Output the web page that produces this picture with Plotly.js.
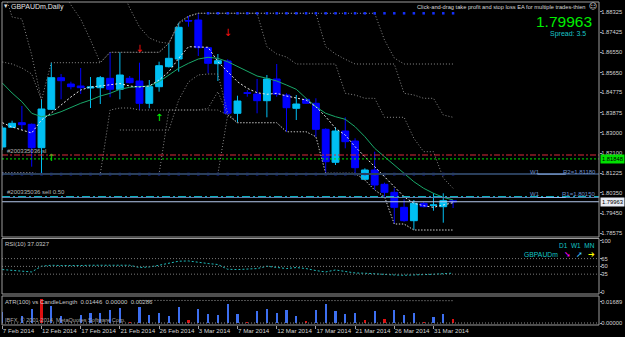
<!DOCTYPE html>
<html><head><meta charset="utf-8">
<script src="https://cdn.plot.ly/plotly-3.0.1.min.js"></script>
<style>html,body{margin:0;padding:0;background:#000;overflow:hidden}#chart{width:625px;height:337px}</style>
</head><body><div id="chart"></div>
<script>
const dates = ['2014-02-07','2014-02-09','2014-02-10','2014-02-11','2014-02-12','2014-02-13','2014-02-14',
'2014-02-16','2014-02-17','2014-02-18','2014-02-19','2014-02-20','2014-02-21',
'2014-02-23','2014-02-24','2014-02-25','2014-02-26','2014-02-27','2014-02-28',
'2014-03-02','2014-03-03','2014-03-04','2014-03-05','2014-03-06','2014-03-07',
'2014-03-09','2014-03-10','2014-03-11','2014-03-12','2014-03-13','2014-03-14',
'2014-03-16','2014-03-17','2014-03-18','2014-03-19','2014-03-20','2014-03-21',
'2014-03-23','2014-03-24','2014-03-25','2014-03-26','2014-03-27','2014-03-28',
'2014-03-30','2014-03-31','2014-04-01','2014-04-02'];
const tickDates = ['2014-02-07','2014-02-12','2014-02-17','2014-02-21','2014-02-26','2014-03-03','2014-03-07','2014-03-12','2014-03-17','2014-03-21','2014-03-26','2014-03-31'];
const tickLabels = ['7 Feb 2014','12 Feb 2014','17 Feb 2014','21 Feb 2014','26 Feb 2014','3 Mar 2014','7 Mar 2014','12 Mar 2014','17 Mar 2014','21 Mar 2014','26 Mar 2014','31 Mar 2014'];

const open  = [1.82372,1.83239,1.83441,1.83371,1.82341,1.84031,1.85421,1.85144,1.85056,1.84968,1.84981,1.85395,1.84911,1.85395,1.85276,1.84295,1.85025,1.85905,1.86244,1.87938,1.87960,1.86741,1.86037,1.86156,1.83855,1.84761,1.84704,1.84409,1.85364,1.84660,1.84075,1.84471,1.84295,1.83151,1.81699,1.83076,1.82636,1.80951,1.81360,1.80731,1.80379,1.79719,1.79129,1.79895,1.79807,1.79745,1.80005];
const high  = [1.83296,1.83529,1.84176,1.83406,1.84471,1.86081,1.85584,1.85245,1.85848,1.85452,1.85496,1.86539,1.86539,1.85496,1.86081,1.85320,1.86125,1.86935,1.87841,1.88136,1.88255,1.86785,1.86464,1.86231,1.84629,1.84880,1.85364,1.85540,1.86024,1.84735,1.84660,1.84506,1.84515,1.83195,1.83239,1.83679,1.82755,1.81435,1.82165,1.80801,1.80555,1.80071,1.80040,1.79965,1.80335,1.80335,1.80040];
const low   = [1.82240,1.83208,1.83120,1.81505,1.81184,1.84000,1.84471,1.84911,1.84704,1.84088,1.84264,1.84559,1.84471,1.85166,1.84000,1.84075,1.84805,1.85870,1.85685,1.87665,1.86376,1.85615,1.85276,1.83780,1.83441,1.84585,1.83855,1.83679,1.84585,1.83045,1.83560,1.84264,1.82825,1.81215,1.81580,1.82315,1.81215,1.80920,1.80480,1.80185,1.78984,1.79085,1.78720,1.79719,1.79569,1.79041,1.79688];
const close = [1.83208,1.83415,1.83353,1.82341,1.84044,1.85421,1.85289,1.85025,1.84981,1.85012,1.85421,1.84911,1.85540,1.85201,1.84295,1.85025,1.85949,1.86275,1.87639,1.87916,1.86741,1.86055,1.86169,1.83855,1.84396,1.84735,1.84409,1.85364,1.84691,1.84101,1.84264,1.84295,1.83151,1.81725,1.83076,1.82605,1.81461,1.81360,1.80700,1.80379,1.79719,1.79129,1.79895,1.79745,1.79820,1.80009,1.79963];

const maGreen = [1.85188,1.84748,1.84365,1.83855,1.83705,1.83780,1.83925,1.84119,1.84295,1.84440,1.84616,1.84735,1.84911,1.84999,1.85025,1.85056,1.85245,1.85540,1.85835,1.86055,1.86244,1.86319,1.86275,1.86125,1.85905,1.85685,1.85496,1.85395,1.85276,1.85100,1.84911,1.84515,1.84145,1.83855,1.83705,1.83591,1.83265,1.82825,1.82315,1.81945,1.81580,1.81215,1.80845,1.80555,1.80335,1.80159,1.80040];
const maWhite = [1.83441,1.83252,1.83120,1.82988,1.83560,1.83868,1.84220,1.84572,1.84880,1.85012,1.85056,1.85100,1.85166,1.85056,1.85012,1.85056,1.85320,1.85685,1.86275,1.86785,1.86785,1.86759,1.86125,1.85685,1.85245,1.84955,1.84761,1.84691,1.84735,1.84616,1.84515,1.84440,1.84145,1.83705,1.83195,1.82900,1.82385,1.81945,1.81505,1.81065,1.80625,1.80185,1.79895,1.79789,1.79719,1.79820,1.79921];

const upper7  = [1.89500,1.88092,1.88004,1.86420,1.84440,1.86081,1.86081,1.86081,1.86081,1.86081,1.86081,1.86539,1.86539,1.86539,1.86539,1.86539,1.86539,1.86935,1.87841,1.88136,1.88255,1.88255,1.88255,1.88255,1.88255,1.88255,1.88255,1.86785,1.86464,1.86332,1.86024,1.86024,1.86024,1.86024,1.86024,1.84735,1.84660,1.84515,1.84515,1.83679,1.83679,1.83679,1.82755,1.82165,1.82165,1.81008,1.80555];
const upper13 = [1.89500,1.89500,1.89500,1.89500,1.89500,1.89500,1.89500,1.88620,1.88004,1.87080,1.86081,1.86539,1.86539,1.86539,1.86539,1.86539,1.86539,1.86935,1.87841,1.88136,1.88255,1.88255,1.88255,1.88255,1.88255,1.88255,1.88255,1.88255,1.88255,1.88255,1.88255,1.88255,1.88255,1.86785,1.86464,1.86231,1.86024,1.86024,1.86024,1.86024,1.86024,1.84735,1.84660,1.84515,1.84515,1.83780,1.83679];
const upper19 = [1.89500,1.89500,1.89500,1.89500,1.89500,1.89500,1.89500,1.89500,1.89500,1.89500,1.89500,1.89500,1.89500,1.88488,1.87652,1.87168,1.86992,1.86935,1.87784,1.88092,1.88255,1.88255,1.88255,1.88255,1.88255,1.88255,1.88255,1.88255,1.88255,1.88255,1.88255,1.88255,1.88255,1.88255,1.88255,1.88255,1.88255,1.88255,1.88255,1.87080,1.86288,1.86024,1.86024,1.86024,1.86024,1.86024,1.86024];
const lower7  = [1.81228,1.81228,1.81228,1.81228,1.81184,1.81184,1.81184,1.81184,1.81184,1.81184,1.81184,1.84000,1.84088,1.84088,1.84000,1.84000,1.84000,1.84000,1.84000,1.84000,1.84000,1.84075,1.84805,1.83780,1.83441,1.83441,1.83441,1.83441,1.83441,1.83045,1.83045,1.83045,1.82825,1.81215,1.81215,1.81215,1.81215,1.80920,1.80480,1.80185,1.78984,1.78984,1.78720,1.78720,1.78720,1.78720,1.78720];
const lower13 = [1.81228,1.81228,1.81228,1.81228,1.81184,1.81184,1.81184,1.81184,1.81184,1.81184,1.81184,1.81184,1.81184,1.81184,1.81184,1.81184,1.81184,1.84000,1.84000,1.84000,1.84000,1.84000,1.84000,1.83780,1.83441,1.83441,1.83441,1.83441,1.83441,1.83045,1.83045,1.83045,1.82825,1.81215,1.81215,1.81215,1.81215,1.80920,1.80480,1.80185,1.78984,1.78984,1.78720,1.78720,1.78720,1.78720,1.78720];
const lower19 = [1.81228,1.81228,1.81228,1.81228,1.81184,1.81184,1.81184,1.81184,1.81184,1.81184,1.81184,1.81184,1.81184,1.81184,1.81184,1.81184,1.81184,1.81184,1.81184,1.81184,1.81184,1.81184,1.81184,1.83780,1.83441,1.83441,1.83441,1.83441,1.83441,1.83045,1.83045,1.83045,1.82825,1.81215,1.81215,1.81215,1.81215,1.80920,1.80480,1.80185,1.78984,1.78984,1.78720,1.78720,1.78720,1.78720,1.78720];
const extraUpper = [1.86112,1.86024,1.85848,1.85584,1.84440,null,null,null,null,null,null,null,null,null,null,null,null,null,null,null,null,null,null,null,null,null,null,null,null,null,null,null,null,null,null,null,null,null,null,null,null,null,null,null,null,null,null];
const extraLower = [null,null,null,null,null,null,null,null,null,null,null,null,1.83120,1.83120,1.83120,1.83120,1.83120,1.83120,1.84440,1.85232,1.85540,1.85584,1.85584,1.83868,1.83428,null,null,null,null,null,null,null,null,null,null,null,null,null,null,null,null,null,null,null,null,null,null];

const topDots = [null,null,null,null,null,null,null,null,null,null,null,null,null,null,null,null,null,null,null,null,null,1.88255,1.88255,1.88255,1.88255,1.88255,1.88255,1.88255,1.88255,1.88255,1.88255,1.88255,1.88255,1.88255,1.88255,1.88255,1.88255,1.88255,1.88255,1.88255,1.88255,1.88255,1.88255,1.88255,1.88255,1.88255,1.88255];
const supportDots = [1.8118,1.8118,1.8118,1.8118,1.8118,1.8118,1.8118,1.8118,1.8118,1.8118,1.8118,1.8118,1.8118,1.8118,1.8118,1.8118,1.8118,1.8118,1.8118,1.8118,1.8118,1.8118,1.8118,1.8118,1.8118,1.8118,1.8118,1.8118,1.8118,1.8118,1.8118,1.8118,1.8118,1.8118,1.8118,1.8118,1.8118,1.8118,1.8118,1.8118,1.8118,1.8118,1.8118,1.8118,1.8118,1.8118,1.8118];
const buyArrows  = [null,null,null,null,null,1.81888,null,null,null,null,null,null,null,null,null,null,1.83648,null,null,null,null,null,null,null,null,null,null,null,null,null,null,null,null,null,null,null,null,null,null,null,null,null,null,null,null,null,null];
const sellArrows = [null,null,null,null,null,null,null,null,null,null,null,null,null,null,1.86684,null,null,null,null,null,null,null,null,1.87388,null,null,null,null,null,null,null,null,null,null,null,null,null,null,null,null,null,null,null,null,null,null,null];

const rsi = [43.9,42.6,41.2,39.3,50.3,52.2,51.6,50.9,51.6,52.2,52.2,52.8,53.6,52.2,47.8,48.9,52.2,56.7,60.0,60.5,57.4,55.5,53.6,44.5,43.9,44.5,45.8,50.3,47.8,45.8,47.8,45.8,42.0,39.3,43.1,40.0,37.3,36.8,35.4,34.8,33.5,32.9,34.2,34.2,34.8,36.2,37.03];
const rsiTicks = [0, 35, 50, 65, 100];

const lenBlue = [0.00896,null,0.00555,0.01086,null,0.01348,0.00579,null,0.00634,0.00769,0.00769,0.01031,0.01166,null,0.01293,0.00634,0.00769,0.00579,0.01245,null,0.0111,0.00714,0.00634,0.01507,0.00714,null,0.00952,0.0111,0.00769,0.01031,0.00579,null,0.01031,0.01507,0.00975,0.00714,0.00769,null,0.00952,null,0.01031,0.0061,0.00793,null,0.00452,0.00714,null];
const lenRed = [null,null,null,null,0.01879,null,null,null,null,null,null,null,null,0.00103,null,null,null,null,null,0.00238,null,null,null,null,null,0.00079,null,null,null,null,null,0.00135,null,null,null,null,null,0.00238,null,0.00317,null,null,null,0.00079,null,null,0.00286];
const atr = [null,null,null,null,null,null,null,null,null,null,null,null,null,null,0.0179,0.0179,0.0179,0.0178,0.0178,0.0178,0.0178,0.0178,0.0178,0.0178,0.0178,0.0178,0.0177,0.0177,0.0177,0.0177,0.0177,0.0177,0.0177,0.0177,0.0177,0.0177,0.0177,0.0177,0.0177,0.0177,0.0177,0.0177,0.0177,0.0177,0.0177,0.0177,0.0177];
const atrTicks = [0, 0.01689];
const atrTickText = ['0.00000', '0.01689'];

const priceTicks = [1.88325,1.87425,1.86550,1.85650,1.84775,1.83875,1.83000,1.82100,1.81225,1.80350,1.79450,1.78575];
const slLevel = 1.82020, greenLevel = 1.81848, r2Level = 1.81180, sellLevel = 1.80185, r1Level = 1.80150, bidLevel = 1.79963;

const X = dates.map((d, i) => i);
const tickIdx = tickDates.map(d => dates.indexOf(d));
const xp = px => (px - 2) / 597;
const yp = py => (325 - py) / 323;
const FONT = 'Liberation Sans, Arial, sans-serif';
const GRAY = '#8a8a8a';

const traces = [];
traces.push({type:'candlestick', x:X, open, high, low, close, xaxis:'x', yaxis:'y', hoverinfo:'skip',
  whiskerwidth:0,
  increasing:{line:{color:'#00BFF3', width:1}, fillcolor:'#00BFF3'},
  decreasing:{line:{color:'#0000FF', width:1}, fillcolor:'#0000FF'}});
[upper7, upper13, upper19, lower7, lower13, lower19, extraUpper, extraLower].forEach(s => {
  traces.push({type:'scatter', mode:'lines', x:X, y:s, xaxis:'x', yaxis:'y', hoverinfo:'skip',
    line:{color:GRAY, width:1, dash:'1px,2px'}, connectgaps:false});
});
traces.push({type:'scatter', mode:'markers', x:X, y:topDots, yaxis:'y', hoverinfo:'skip',
  marker:{color:'#1430ff', size:2.5, symbol:'square'}});
traces.push({type:'scatter', mode:'markers', x:X, y:supportDots, yaxis:'y', hoverinfo:'skip',
  marker:{color:'#1430ff', size:2.5, symbol:'square'}});
traces.push({type:'scatter', mode:'lines', x:X, y:maGreen, yaxis:'y', hoverinfo:'skip',
  line:{color:'#19a86a', width:1}});
traces.push({type:'scatter', mode:'lines', x:X, y:maWhite, yaxis:'y', hoverinfo:'skip',
  line:{color:'#e8e8e8', width:1, dash:'2px,2px'}});
traces.push({type:'scatter', mode:'text', x:X, y:buyArrows, yaxis:'y', hoverinfo:'skip',
  text:buyArrows.map(v => v === null ? '' : '↑'), textfont:{family:'DejaVu Sans', size:10, color:'#00ff00'}});
traces.push({type:'scatter', mode:'text', x:X, y:sellArrows, yaxis:'y', hoverinfo:'skip',
  text:sellArrows.map(v => v === null ? '' : '↓'), textfont:{family:'DejaVu Sans', size:10, color:'#ff1010'}});
traces.push({type:'scatter', mode:'lines', x:X, y:rsi, xaxis:'x', yaxis:'y2', hoverinfo:'skip',
  line:{color:'#1fbcbc', width:1, dash:'2px,2px'}});
traces.push({type:'bar', x:X, y:lenBlue, xaxis:'x', yaxis:'y3', width:0.22, hoverinfo:'skip',
  marker:{color:'#3d6ff0', line:{width:0}}});
traces.push({type:'bar', x:X, y:lenRed, xaxis:'x', yaxis:'y3', width:0.22, hoverinfo:'skip',
  marker:{color:'#e01010', line:{width:0}}});
traces.push({type:'scatter', mode:'lines', x:X, y:atr, xaxis:'x', yaxis:'y3', hoverinfo:'skip',
  line:{color:'#a0a0a0', width:1, dash:'1px,2px'}});

function hline(y, color, dash, width, yref) {
  return {type:'line', xref:'paper', x0:0, x1:1, yref:yref||'y', y0:y, y1:y, line:{color, width:width||1, dash:dash||'solid'}, layer:'above'};
}
const FRAME = '#9c9c9c';
const shapes = [
  hline(r2Level, '#2a3f5c', 'solid', 2),
  hline(slLevel, '#d8283a', '6px,2px,2px,2px'),
  hline(greenLevel, '#00e000', '2px,2px'),
  hline(sellLevel, '#10d8e8', '8px,3px,2px,3px'),
  hline(r1Level, '#5c7cac', 'solid'),
  hline(bidLevel, '#b4c8ec', 'solid'),
  {type:'line', xref:'x', yref:'y', x0:54.6, x1:57.5, y0:r2Level, y1:r2Level, line:{color:'#8fb4ec', width:1}},
  {type:'line', xref:'x', yref:'y', x0:54.6, x1:57.5, y0:r1Level, y1:r1Level, line:{color:'#8fb4ec', width:1}},
  hline(65, '#7a7a7a', '1px,2px', 1, 'y2'),
  hline(50, '#7a7a7a', '1px,2px', 1, 'y2'),
  hline(35, '#7a7a7a', '1px,2px', 1, 'y2'),
  hline(0, '#8a8a8a', '1px,2px', 1, 'y3'),
  {type:'rect', xref:'paper', yref:'paper', x0:0, x1:1, y0:yp(237), y1:yp(2), line:{color:FRAME, width:1}},
  {type:'rect', xref:'paper', yref:'paper', x0:0, x1:1, y0:yp(294), y1:yp(238.5), line:{color:FRAME, width:1}},
  {type:'rect', xref:'paper', yref:'paper', x0:0, x1:1, y0:yp(325), y1:yp(296), line:{color:FRAME, width:1}}
];

function txt(text, px, py, opts) {
  opts = opts || {};
  return {text, xref:'paper', yref:'paper', x:xp(px), y:yp(py), xanchor:opts.xa||'left', yanchor:'middle',
    showarrow:false, font:{family:opts.family||FONT, size:opts.size||6.5, color:opts.color||'#d0d0d0'},
    bgcolor:opts.bg, borderpad:opts.pad||0};
}
const annotations = [
  txt('▾', 3, 6, {size:7, color:'#e0e0e0', family:'DejaVu Sans'}),
  txt('GBPAUDm,Daily', 10, 6.5, {size:7, color:'#e4e4e4'}),
  txt('Click-and-drag take profit and stop loss EA for multiple trades-thien', 587, 7, {xa:'right', size:5.7, color:'#d8d8d8'}),
  txt('☺', 592.5, 7, {xa:'center', size:8, color:'#d8d8d8', family:'DejaVu Sans'}),
  txt('1.79963', 593, 21, {xa:'right', size:15.5, color:'#00ee00'}),
  txt('Spread: 3.5', 587, 34, {xa:'right', size:7, color:'#19c4c8'}),
  txt('#200335036 sl', 6, 151, {size:6, color:'#b4b4b4'}),
  txt('#200335036 sell 0.50', 6, 192.5, {size:6, color:'#b4b4b4'}),
  txt('W1', 529, 171.5, {size:6, color:'#6f90cc'}),
  txt('R2=1.81180', 597, 171.5, {xa:'right', size:6, color:'#6f90cc'}),
  txt('W1', 529, 193.5, {size:6, color:'#6f90cc'}),
  txt('R1=1.80150', 597, 193.5, {xa:'right', size:6, color:'#6f90cc'}),
  txt('1.81848', 600, 159, {size:5.8, color:'#000000', bg:'#00e000', pad:1}),
  txt('1.79963', 600, 202, {size:5.8, color:'#000000', bg:'#e8ecf4', pad:1}),
  txt('RSI(10) 37.0327', 4, 243.5, {size:6, color:'#c8c8c8'}),
  txt('D1  W1  MN', 596, 245, {xa:'right', size:6.5, color:'#12c6c6'}),
  txt('GBPAUDm', 559, 254.5, {xa:'right', size:6.8, color:'#12c6c6'}),
  txt('➘', 567, 254.5, {xa:'center', size:8, color:'#ff00ff', family:'DejaVu Sans'}),
  txt('➚', 579, 254.5, {xa:'center', size:8, color:'#40c8ff', family:'DejaVu Sans'}),
  txt('➔', 591, 254.5, {xa:'center', size:8, color:'#ffff00', family:'DejaVu Sans'}),
  txt('ATR(100) vs CandleLength  0.01446  0.00000  0.00286', 4, 301.5, {size:6, color:'#c8c8c8'}),
  txt('IBFX, © 2001-2014, MetaQuotes Software Corp.', 4, 320, {size:5.6, color:'#a8a8a8'})
];

const axFont = {family:FONT, size:5.8, color:'#d4d4d4'};
const yCommon = {side:'right', anchor:'x', showgrid:false, zeroline:false, showline:false, tickmode:'array',
  ticks:'outside', ticklen:2, tickcolor:FRAME, tickfont:axFont, ticklabelstandoff:-2, fixedrange:true};
const layout = {
  width:625, height:337, margin:{l:2, r:26, t:2, b:12, pad:0},
  paper_bgcolor:'#000', plot_bgcolor:'#000', showlegend:false, dragmode:false,
  font:{family:FONT, color:'#d0d0d0'},
  bargap:0, barmode:'overlay', boxgap:0.3, boxgroupgap:0,
  xaxis:{type:'linear', range:[-0.03, 60.89], anchor:'y3', showgrid:false, zeroline:false, showline:false,
    tickmode:'array', tickvals:tickIdx, ticktext:tickLabels, ticks:'outside', ticklen:3, tickcolor:FRAME,
    tickfont:{family:FONT, size:6.2, color:'#d4d4d4'}, tickangle:0, ticklabelposition:'outside right',
    rangeslider:{visible:false}, fixedrange:true},
  yaxis:Object.assign({}, yCommon, {domain:[yp(237), 1], range:[1.78412, 1.88752],
    tickvals:priceTicks, ticktext:priceTicks.map(v => v.toFixed(5))}),
  yaxis2:Object.assign({}, yCommon, {domain:[yp(294), yp(238.5)], range:[-3.25, 103.8], tickvals:rsiTicks}),
  yaxis3:Object.assign({}, yCommon, {domain:[0, yp(296)], range:[-0.00159, 0.02141], tickvals:atrTicks, ticktext:atrTickText}),
  shapes, annotations
};
Plotly.newPlot('chart', traces, layout, {staticPlot:true, displayModeBar:false});
</script></body></html>
